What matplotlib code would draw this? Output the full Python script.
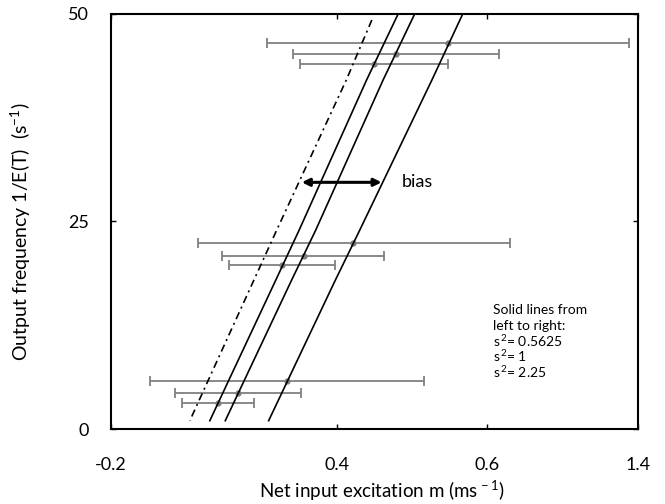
import numpy as np
import matplotlib
matplotlib.use("Agg")
import matplotlib.pyplot as plt

plt.rcParams['font.family'] = ['Lato', 'DejaVu Sans']
plt.rcParams['mathtext.fontset'] = 'custom'
plt.rcParams['mathtext.rm'] = 'Lato'
plt.rcParams['mathtext.it'] = 'Lato:italic'
plt.rcParams['mathtext.bf'] = 'Lato:bold'

# ---- data ----
x_ticks = [-0.2, 0.4, 0.6, 1.4]
x_tick_labels = ["-0.2", "0.4", "0.6", "1.4"]
x_tick_frac = [0.0, 0.4294, 0.7144, 1.0]   # position of each tick label along the axis
y_ticks = [0, 25, 50]

bar_freq = [46.5, 45.14, 43.94, 22.37, 20.88, 19.72, 5.75, 4.30, 3.10]
bar_mean = [0.548, 0.478, 0.449, 0.421, 0.311, 0.254, 0.266, 0.136, 0.083]
bar_low = [0.213, 0.282, 0.301, 0.030, 0.094, 0.114, -0.097, -0.030, -0.011]
bar_high = [1.352, 0.663, 0.548, 0.720, 0.462, 0.394, 0.515, 0.303, 0.180]

dashdot_freq = [49.28, 42.05, 23.73, 17.95, 1.0]
dashdot_m = [0.446, 0.412, 0.237, 0.179, 0.009]
solid_freq = [50, 42.05, 23.98, 17.95, 1.0]
solid1_m = [0.481, 0.439, 0.299, 0.237, 0.062]
solid2_m = [0.503, 0.461, 0.343, 0.279, 0.103]
solid3_m = [0.567, 0.526, 0.430, 0.395, 0.218]

bias_left, bias_right, bias_freq = 0.306, 0.459, 29.72
bias_text_x = 0.486

legend_lines = ["Solid lines from", "left to right:",
                "s$^{\\,2}$= 0.5625", "s$^{\\,2}$= 1", "s$^{\\,2}$= 2.25"]
legend_x = 0.631
legend_freq = [14.34, 12.45, 10.64, 8.80, 6.90]

# ---- figure ----
fig = plt.figure(figsize=(6.65, 5.04), dpi=100)
ax = fig.add_axes([111/665, 1-429/504, (638-111)/665, (429-14)/504])

fwd = lambda v: np.interp(v, x_ticks, x_tick_frac)
inv = lambda f: np.interp(f, x_tick_frac, x_ticks)
ax.set_xscale('function', functions=(fwd, inv))
ax.set_xlim(-0.2, 1.4)
ax.set_ylim(0, 50)

bar_mean_a = np.array(bar_mean)
xerr = [bar_mean_a - np.array(bar_low), np.array(bar_high) - bar_mean_a]
ax.errorbar(bar_mean, bar_freq, xerr=xerr, fmt='o', color='#808080',
            ecolor='#808080', elinewidth=1.3, capsize=3.5, capthick=1.3,
            markersize=3.5, zorder=2)

ax.plot(dashdot_m, dashdot_freq, color='black', lw=1.2,
        linestyle=(0, (4.5, 2.5, 1.2, 2.5)), zorder=3)
for ms in (solid1_m, solid2_m, solid3_m):
    ax.plot(ms, solid_freq, color='black', lw=1.2, zorder=3)

ax.annotate('', xy=(bias_left, bias_freq), xytext=(bias_right, bias_freq),
            arrowprops=dict(arrowstyle='<|-|>', lw=2.2, color='black',
                            mutation_scale=11, shrinkA=0, shrinkB=0))
ax.text(bias_text_x, bias_freq, 'bias', fontsize=13, va='center', ha='left')

for t, fy in zip(legend_lines, legend_freq):
    ax.text(legend_x, fy, t, fontsize=10, va='center', ha='left')

ax.set_xticks(x_ticks)
ax.set_xticklabels(x_tick_labels)
ax.xaxis.set_minor_locator(matplotlib.ticker.NullLocator())
ax.set_yticks(y_ticks)
ax.tick_params(direction='in', length=3.5, width=1, top=True, right=True,
               labelsize=13)
ax.tick_params(axis='x', pad=20)
ax.tick_params(axis='y', pad=16)
for s in ax.spines.values():
    s.set_linewidth(1.5)

ax.set_xlabel('Net input excitation m (ms$^{\\,-1}$)', fontsize=13.5, va='center')
ax.xaxis.set_label_coords(0.514, -0.149)
ax.set_ylabel('Output frequency 1/E(T)  (s$^{-1}$)', fontsize=14, va='center')
ax.yaxis.set_label_coords(-0.171, 0.475)

fig.savefig('out.png', dpi=100)
